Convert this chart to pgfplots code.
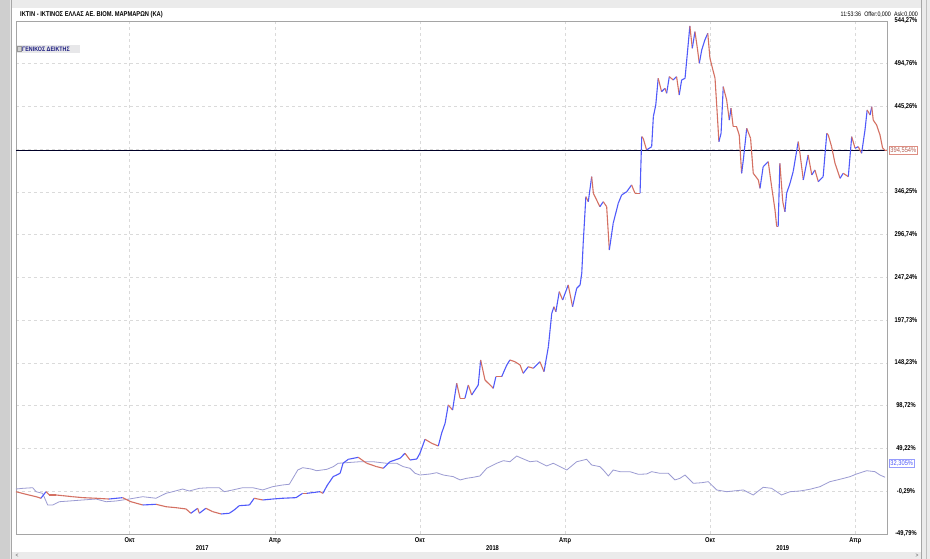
\documentclass[border=0pt]{standalone}
\usepackage{pgfplots}
\pgfplotsset{compat=1.18}
\usepackage{pgfplotstable}
\usepackage{fontspec}
\setmainfont{Liberation Sans}[FakeStretch=0.82]

\definecolor{upc}{RGB}{80,90,250}
\definecolor{dnc}{RGB}{212,112,98}
\definecolor{idxc}{RGB}{155,155,210}
\definecolor{gridc}{RGB}{218,218,218}
\definecolor{framec}{RGB}{165,165,165}
\definecolor{navy}{RGB}{30,30,130}

% IKTIN series: x = months since Jan 2016, y = %, d = 1 if next value higher (blue), 0 otherwise (red)
\pgfplotstableread{
x y d
4.30 -0.8 0
4.71 -3.8 0
5.13 -6.6 0
5.33 -8.4 1
5.54 -0.8 0
5.68 -4.6 0
5.95 -4.6 0
6.23 -5.4 0
6.64 -6.6 0
7.06 -7.7 0
7.61 -8.4 0
8.14 -9.3 1
8.71 -7.7 0
9.05 -12.4 0
9.54 -16.2 1
10.09 -15.4 0
10.50 -18.2 0
10.91 -19.3 0
11.33 -20.8 0
11.53 -25.8 1
11.81 -20.0 0
11.88 -25.8 1
12.15 -20.0 0
12.43 -23.9 0
12.78 -26.6 1
13.12 -25.8 1
13.32 -22.0 1
13.53 -17.0 1
13.95 -16.2 1
14.15 -8.4 0
14.50 -10.4 1
14.91 -9.3 1
15.33 -8.4 1
15.88 -7.7 1
16.15 -2.7 0
16.32 -2.7 1
16.87 -0.8 0
16.99 -2.7 1
17.15 5.8 1
17.41 16.6 1
17.70 20.5 1
17.82 32.1 1
18.04 36.7 1
18.45 39.0 0
18.80 32.1 0
19.21 28.2 0
19.49 26.3 1
19.76 33.9 1
20.18 37.9 1
20.38 43.7 0
20.59 35.9 1
20.87 37.1 1
21.00 43.7 1
21.21 59.9 0
21.49 55.2 0
21.76 52.1 1
21.90 67.2 1
22.04 78.4 1
22.17 99.6 0
22.35 93.8 1
22.52 124.7 0
22.66 107.4 0
22.86 107.4 1
23.00 122.7 0
23.14 111.2 1
23.41 122.7 1
23.51 151.7 0
23.69 128.5 0
23.97 120.8 0
24.03 118.9 1
24.14 132.4 0
24.38 132.4 1
24.59 145.9 1
24.72 151.7 0
24.93 149.7 0
25.14 145.9 0
25.27 136.3 1
25.48 143.9 0
25.69 142.1 1
25.96 149.7 0
26.13 138.2 1
26.31 167.1 1
26.45 205.8 1
26.54 213.4 0
26.62 207.6 1
26.76 230.8 0
26.90 221.2 1
27.13 238.6 0
27.31 213.4 1
27.48 234.7 1
27.62 238.6 1
27.69 252.1 1
27.75 286.8 1
27.86 340.8 0
27.96 335.0 1
28.10 364.0 0
28.17 344.8 0
28.44 329.2 1
28.58 335.0 0
28.72 329.2 0
28.83 279.1 1
28.99 310.0 1
29.20 333.2 1
29.34 342.8 1
29.55 346.6 1
29.75 354.4 0
29.89 344.8 0
30.10 344.8 1
30.17 410.3 0
30.23 408.4 0
30.37 394.9 1
30.58 398.7 1
30.65 433.5 1
30.75 447.0 1
30.85 477.9 0
30.99 462.4 1
31.13 466.3 0
31.20 460.6 1
31.31 479.8 0
31.47 476.0 1
31.61 479.8 0
31.72 458.6 1
31.82 476.0 1
31.96 477.9 1
32.03 499.1 1
32.16 538.5 0
32.26 512.7 1
32.37 531.9 0
32.47 512.7 0
32.55 495.3 1
32.65 510.7 1
32.78 522.3 1
32.90 530.0 0
32.99 501.1 0
33.20 477.9 0
33.29 437.4 0
33.36 404.5 1
33.45 414.2 1
33.54 468.2 0
33.68 452.8 0
33.79 429.6 1
33.86 443.2 0
33.95 421.9 0
34.09 421.9 0
34.20 412.3 0
34.30 367.9 1
34.37 383.3 1
34.51 420.0 0
34.67 408.4 0
34.78 367.9 0
34.99 360.2 0
35.06 350.5 1
35.19 375.6 1
35.40 381.3 0
35.54 352.4 0
35.68 325.4 0
35.75 306.1 0
35.81 306.1 1
35.88 379.5 0
36.00 335.0 0
36.09 323.4 1
36.16 344.8 1
36.30 356.3 1
36.43 369.8 1
36.64 404.5 0
36.71 391.1 0
36.85 360.2 1
37.05 389.1 0
37.20 366.0 1
37.33 371.7 0
37.47 358.2 1
37.67 364.0 1
37.82 414.2 0
37.88 412.3 0
38.02 398.7 0
38.16 379.5 0
38.37 362.1 1
38.50 367.9 0
38.71 364.0 1
38.85 410.3 0
38.99 396.9 1
39.12 398.7 0
39.26 391.1 1
39.40 418.1 1
39.49 441.2 0
39.61 435.4 1
39.68 445.0 0
39.74 429.6 0
39.88 423.8 0
40.02 412.3 0
40.13 396.9 0
40.23 394.6 0
40.31 394.6 0
}\maindata

% General index (ΓΕΝΙΚΟΣ ΔΕΙΚΤΗΣ)
\pgfplotstableread{
x y
4.30 2.3
4.58 3.1
4.99 3.8
5.13 -0.8
5.40 -2.7
5.61 -16.2
5.82 -16.2
6.09 -12.4
6.50 -11.6
7.06 -10.4
7.61 -9.3
8.02 -12.4
8.43 -11.6
8.98 -9.3
9.54 -6.6
10.09 -8.4
10.50 -2.7
10.78 -0.8
11.19 2.3
11.46 0.0
11.88 3.1
12.29 3.8
12.70 3.8
12.91 -0.8
13.26 1.2
13.67 3.8
14.09 3.8
14.50 1.2
14.91 5.0
15.33 7.0
15.60 7.8
15.95 24.3
16.15 27.0
16.50 25.5
16.73 23.5
17.15 25.1
17.42 28.2
17.62 32.1
17.97 32.8
18.52 33.9
19.07 33.9
19.62 32.1
20.04 32.1
20.31 28.2
20.59 26.3
20.80 20.5
21.00 18.5
21.42 19.7
21.69 21.2
21.97 18.5
22.38 16.6
22.66 12.8
22.93 14.7
23.21 15.9
23.48 17.4
23.76 26.3
24.17 32.1
24.45 35.1
24.72 33.9
25.00 40.5
25.21 37.9
25.55 33.9
25.83 34.8
26.24 29.0
26.51 32.1
27.07 24.3
27.48 33.9
27.89 36.7
28.10 30.1
28.44 28.2
28.58 24.3
28.79 17.4
28.99 24.3
29.27 22.4
29.68 22.4
30.03 19.3
30.37 19.7
30.58 22.4
30.92 20.5
31.27 20.5
31.54 12.8
31.75 14.7
31.96 18.5
32.30 8.9
32.65 9.6
32.92 10.8
33.27 1.2
33.68 -0.8
34.09 0.4
34.37 1.2
34.78 -4.6
35.19 4.3
35.54 3.1
35.95 -4.6
36.30 -0.8
36.71 0.0
37.12 2.0
37.54 5.0
37.95 10.8
38.37 13.6
38.78 16.6
39.05 19.7
39.47 23.5
39.81 22.4
40.02 18.5
40.23 15.9
}\idxdata

\begin{document}
\begin{tikzpicture}
\useasboundingbox (0pt,0pt) rectangle (930pt,559pt);
% window frame
\fill[gray!16] (0pt,0pt) rectangle (930pt,559pt);
\fill[gray!38] (0pt,0pt) rectangle (10pt,559pt);
\fill[white] (11pt,7pt) rectangle (921pt,551pt);
\draw[gray!70, line width=0.8pt] (11pt,0pt) -- (11pt,559pt);
\draw[gray!70, line width=0.8pt] (921.5pt,0pt) -- (921.5pt,559pt);
\draw[gray!50, line width=0.6pt] (926pt,0pt) -- (926pt,559pt);
\node[font=\fontsize{6}{6}\selectfont, text=gray!70!black] at (17pt,3.5pt) {<};
\node[font=\fontsize{6}{6}\selectfont, text=gray!70!black] at (917pt,3.5pt) {>};
% header
\node[anchor=west, inner sep=0pt, font=\bfseries\fontsize{7}{8}\selectfont] at (20pt,544pt) {ΙΚΤΙΝ - ΙΚΤΙΝΟΣ ΕΛΛΑΣ ΑΕ. ΒΙΟΜ. ΜΑΡΜΑΡΩΝ (ΚΑ)};
\node[anchor=east, inner sep=0pt, font=\fontsize{6.5}{7}\selectfont] at (918pt,544pt) {11:53:36\enspace Offer:0,000\enspace Ask:0,000};

\begin{axis}[
  at={(16pt,25pt)}, anchor=south west,
  scale only axis, width=871pt, height=513pt,
  xmin=4.3, xmax=40.31, ymin=-49.79, ymax=544.27,
  axis line style={framec, line width=0.9pt},
  xtick={9,15,21,27,33,39},
  xticklabels={Οκτ,Απρ,Οκτ,Απρ,Οκτ,Απρ},
  extra x ticks={12,24,36},
  extra x tick labels={2017,2018,2019},
  extra x tick style={grid=none, xticklabel style={yshift=-8.5pt}},
  ytick={-49.79,-0.29,49.22,98.72,148.23,197.73,247.24,296.74,346.25,395.75,445.26,494.76,544.27},
  yticklabels={{-49,79\%},{-0,29\%},{49,22\%},{98,72\%},{148,23\%},{197,73\%},{247,24\%},{296,74\%},{346,25\%},{},{445,26\%},{494,76\%},{544,27\%}},
  yticklabel pos=right,
  grid=major,
  major grid style={gridc, dash pattern=on 3pt off 3pt, line width=0.6pt},
  major tick length=0pt,
  tick style={draw=none},
  xticklabel style={font=\bfseries\fontsize{7}{8}\selectfont, anchor=north, inner sep=0pt, yshift=-3pt},
  yticklabel style={font=\bfseries\fontsize{7}{8}\selectfont, anchor=center, inner sep=0pt, xshift=19pt},
  colormap={updown}{rgb255=(212,112,98) rgb255=(80,90,250)},
  point meta min=0, point meta max=1,
  clip mode=individual,
]
\addplot[idxc, line width=0.8pt] table[x=x,y=y] {\idxdata};
\addplot[black!85!blue, line width=0.9pt] coordinates {(4.3,394.55) (40.31,394.55)};
\addplot[mesh, shader=flat corner, point meta=\thisrow{d}, line width=1.1pt] table[x=x,y=y] {\maindata};
\node[anchor=west, xshift=2pt, draw=dnc!80, fill=white, text=dnc!85!black, inner sep=1.2pt, font=\fontsize{7}{7}\selectfont] at (axis cs:40.31,394.55) {394,554\%};
\node[anchor=west, xshift=2pt, draw=upc!60, fill=white, text=upc, inner sep=1.2pt, font=\fontsize{7}{7}\selectfont] at (axis cs:40.31,32.305) {32,305\%};
\end{axis}

% legend of the general index
\fill[blue!6!gray!18] (16.5pt,506pt) rectangle (80pt,514pt);
\draw[gray!80, fill=gray!35, line width=0.4pt] (17.5pt,507.5pt) rectangle (21.5pt,512.5pt);
\node[anchor=west, inner sep=0pt, text=navy, font=\bfseries\fontsize{6.5}{7}\selectfont] at (22pt,510pt) {ΓΕΝΙΚΟΣ ΔΕΙΚΤΗΣ};
\end{tikzpicture}
\end{document}
